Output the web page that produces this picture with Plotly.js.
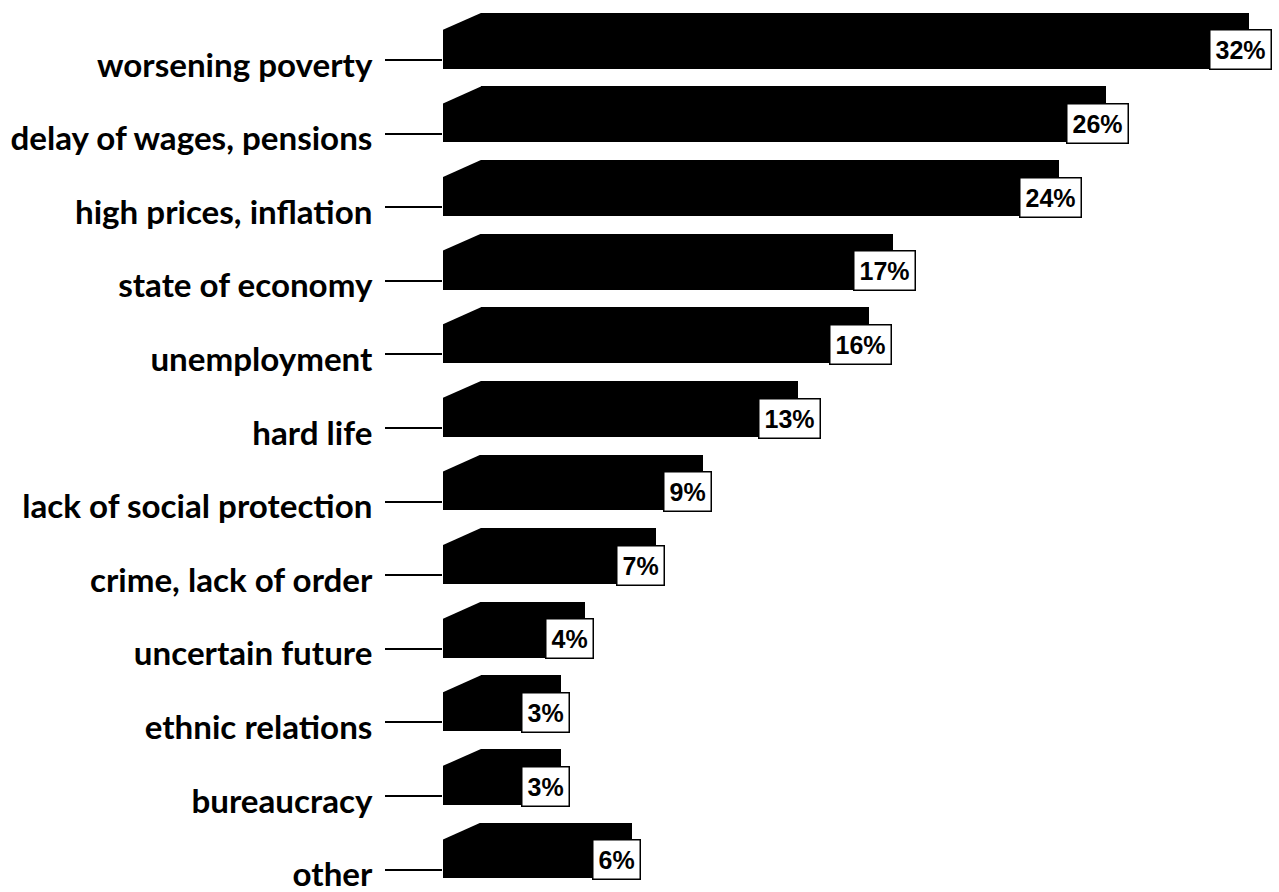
<!DOCTYPE html>
<html>
<head>
<meta charset="utf-8">
<script src="https://cdn.plot.ly/plotly-3.0.1.min.js"></script>
<style>html,body{margin:0;padding:0;background:#fff;}#chart{width:1279px;height:892px;}</style>
</head>
<body>
<div id="chart"></div>
<script>
const categories = [
  "worsening poverty",
  "delay of wages, pensions",
  "high prices, inflation",
  "state of economy",
  "unemployment",
  "hard life",
  "lack of social protection",
  "crime, lack of order",
  "uncertain future",
  "ethnic relations",
  "bureaucracy",
  "other"
];
const values = [32, 26, 24, 17, 16, 13, 9, 7, 4, 3, 3, 6];
const valueLabels = ["32%", "26%", "24%", "17%", "16%", "13%", "9%", "7%", "4%", "3%", "3%", "6%"];

const BASE = -1.98;      // bars start slightly left of zero
const BAR_W = 0.76;
const BAR_OFF = -0.64;
const CUT_X = 1.6;       // width of the bevelled corner (data units)
const CUT_Y = 0.23;      // height of the bevelled corner (category units)
const LABEL_TARGET_W = 362; // pixel width of the widest category label

const trace = {
  type: 'bar',
  orientation: 'h',
  y: categories,
  x: values.map(v => v - BASE),
  base: BASE,
  width: BAR_W,
  offset: BAR_OFF,
  marker: {color: '#000', line: {width: 0}},
  hoverinfo: 'skip'
};

const shapes = categories.map((c, i) => {
  const top = i + BAR_OFF;
  const x0 = BASE - 0.3, y0 = top - 0.05;
  const xa = BASE + CUT_X, yb = top + CUT_Y;
  return {
    type: 'path', xref: 'x', yref: 'y', layer: 'above',
    path: `M ${x0},${y0} L ${xa + 0.05},${y0} L ${xa},${top} L ${BASE},${yb} L ${x0},${yb + 0.02} Z`,
    fillcolor: '#fff', line: {width: 0}
  };
});

const annotations = categories.map((c, i) => ({
  x: values[i], y: c, xref: 'x', yref: 'y',
  text: '<b>' + valueLabels[i] + '</b>',
  showarrow: false,
  xanchor: 'left', yanchor: 'middle',
  xshift: -40, yshift: 10,
  bgcolor: '#fff', bordercolor: '#000', borderwidth: 1.5, borderpad: 5,
  font: {family: 'Liberation Sans, Arial, sans-serif', size: 25, color: '#000'}
}));

const layout = {
  width: 1279, height: 892,
  margin: {l: 443, r: 9, t: 0, b: 0},
  paper_bgcolor: '#fff', plot_bgcolor: '#fff',
  showlegend: false,
  bargap: 0,
  xaxis: {range: [BASE, 32.9], visible: false, fixedrange: true},
  yaxis: {
    type: 'category',
    range: [11.304, -0.815],
    showgrid: false, zeroline: false, showline: false,
    ticks: 'outside', ticklen: 57, tickwidth: 2, tickcolor: '#000',
    ticklabelstandoff: 6,
    tickfont: {family: 'Lato, sans-serif', size: 33, color: '#000', weight: 'bold'}
  },
  shapes: shapes,
  annotations: annotations
};

Plotly.newPlot('chart', [trace], layout, {displayModeBar: false, staticPlot: true}).then(gd => {
  // condense the category labels horizontally (narrow typeface look), anchored at right edge
  const texts = Array.from(gd.querySelectorAll('.ytick text'));
  let maxW = 0;
  texts.forEach(t => { maxW = Math.max(maxW, t.getBBox().width); });
  const s = maxW > 0 ? LABEL_TARGET_W / maxW : 1;
  texts.forEach(t => {
    const x = parseFloat(t.getAttribute('x')) || 0;
    const tr = t.getAttribute('transform') || '';
    t.setAttribute('transform', `translate(0,5) ${tr} translate(${x},0) scale(${s},1) translate(${-x},0)`);
  });
});
</script>
</body>
</html>
